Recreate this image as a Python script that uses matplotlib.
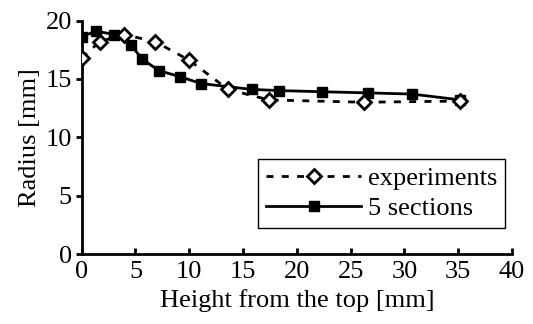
import matplotlib
matplotlib.use("Agg")
import matplotlib.pyplot as plt

exp_x = [0, 1.7, 3.9, 6.8, 10.0, 13.6, 17.4, 26.2, 35.2]
exp_y = [16.8, 18.2, 18.8, 18.2, 16.6, 14.1, 13.2, 13.0, 13.1]
sec_x = [0, 1.3, 3.0, 4.6, 5.6, 7.2, 9.1, 11.1, 15.8, 18.3, 22.3, 26.6, 30.7, 35.2]
sec_y = [18.6, 19.1, 18.8, 17.9, 16.7, 15.7, 15.2, 14.6, 14.1, 14.0, 13.9, 13.8, 13.7, 13.2]
x_ticks = [0, 5, 10, 15, 20, 25, 30, 35, 40]
y_ticks = [0, 5, 10, 15, 20]

plt.rcParams['font.family'] = ['Liberation Serif', 'DejaVu Serif']
fs = 19
fig = plt.figure(figsize=(5.33, 3.24), dpi=100)
ax = fig.add_axes([0.1533, 0.216, 0.8073, 0.7207])

ax.plot(sec_x, sec_y, color='black', lw=2, marker='s', ms=6.5,
        mfc='black', mec='black', label='5 sections', zorder=3)
ax.plot(exp_x, exp_y, color='black', lw=2, dashes=(2.5, 3.0), marker='D', ms=7.5,
        mfc='white', mec='black', mew=2, label='experiments', zorder=4)

ax.set_xlim(0, 40)
ax.set_ylim(0, 20)
ax.set_xticks(x_ticks)
ax.set_yticks(y_ticks)
for s in ['top', 'right']:
    ax.spines[s].set_visible(False)
for s in ['left', 'bottom']:
    ax.spines[s].set_linewidth(2)
ax.tick_params(axis='x', direction='in', length=4, width=2, labelsize=fs, pad=5)
ax.tick_params(axis='y', direction='out', length=4, width=2, labelsize=fs, pad=3)
ax.set_xlabel('Height from the top [mm]', fontsize=fs, labelpad=4)
ax.set_ylabel('Radius [mm]', fontsize=fs, labelpad=3)

h, l = ax.get_legend_handles_labels()
leg = ax.legend([h[1], h[0]], [l[1], l[0]], loc='lower right',
                bbox_to_anchor=(0.984, 0.111), fontsize=fs, fancybox=False,
                edgecolor='black', framealpha=1, handlelength=3.6,
                handletextpad=0.25, borderpad=0.3, labelspacing=0.25,
                borderaxespad=0)
leg.get_frame().set_linewidth(1)

fig.savefig('out.png', dpi=100)
